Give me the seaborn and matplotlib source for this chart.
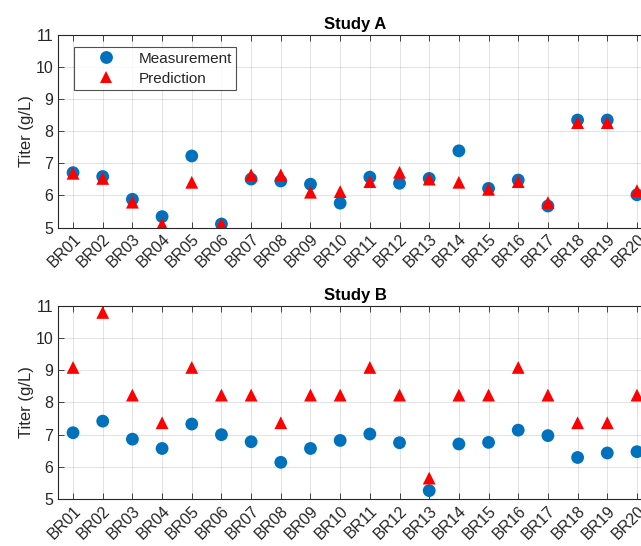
import matplotlib
matplotlib.use("Agg")
import matplotlib.pyplot as plt
import seaborn as sns
import pandas as pd
import numpy as np

batches = [f"BR{i:02d}" for i in range(1, 21)]
a_meas = [6.71, 6.59, 5.88, 5.34, 7.23, 5.11, 6.51, 6.45, 6.35, 5.76,
          6.57, 6.38, 6.53, 7.39, 6.22, 6.48, 5.67, 8.35, 8.35, 6.02]
a_pred = [6.69, 6.53, 5.79, 5.10, 6.41, 5.10, 6.64, 6.64, 6.10, 6.12,
          6.43, 6.72, 6.51, 6.41, 6.19, 6.43, 5.78, 8.27, 8.27, 6.15]
b_meas = [7.06, 7.42, 6.86, 6.57, 7.33, 7.00, 6.78, 6.14, 6.57, 6.82,
          7.02, 6.75, 5.26, 6.71, 6.76, 7.14, 6.97, 6.29, 6.43, 6.47]
b_pred = [9.09, 10.80, 8.23, 7.37, 9.09, 8.23, 8.23, 7.37, 8.23, 8.23,
          9.09, 8.23, 5.65, 8.23, 8.23, 9.09, 8.23, 7.37, 7.37, 8.23]
series = ["Measurement", "Prediction"]
titles = ["Study A", "Study B"]
yticks = [5, 6, 7, 8, 9, 10, 11]

sns.set_style("white")
plt.rcParams['font.family'] = ['Liberation Sans', 'DejaVu Sans']

fig = plt.figure(figsize=(6.41, 5.46), dpi=100)
ax1 = fig.add_axes([58.2/641, 0.5833, 593.6/641, 0.3526])
ax2 = fig.add_axes([58.2/641, 0.0861, 593.6/641, 0.3535])

palette = {"Measurement": "#0072BD", "Prediction": "#FF0000"}
markers = {"Measurement": "o", "Prediction": "^"}
axcol = "#262626"

for ax, meas, pred, title, show_leg in [(ax1, a_meas, a_pred, titles[0], True),
                                         (ax2, b_meas, b_pred, titles[1], False)]:
    df = pd.DataFrame({
        "Batch": batches * 2,
        "Titer": meas + pred,
        "Series": [series[0]] * len(batches) + [series[1]] * len(batches),
    })
    sns.scatterplot(data=df, x="Batch", y="Titer", hue="Series", style="Series",
                    palette=palette, markers=markers, s=85, linewidth=0,
                    ax=ax, legend=show_leg, zorder=3)
    ax.set_xlim(-0.5, 19.5)
    ax.set_ylim(5, 11)
    ax.set_yticks(yticks)
    ax.set_xticks(range(len(batches)))
    ax.set_xticklabels(batches, rotation=45, ha="right", rotation_mode="anchor")
    ax.set_xlabel("")
    ax.set_ylabel("Titer (g/L)", fontsize=12, color=axcol, labelpad=1)
    ax.set_title(title, fontsize=12, fontweight="bold", color="black", pad=4)
    ax.grid(True, color="#262626", alpha=0.13, linewidth=0.7)
    ax.set_axisbelow(True)
    for sp in ax.spines.values():
        sp.set_color(axcol)
        sp.set_linewidth(0.8)
    ax.tick_params(axis="both", direction="in", length=4, width=0.6,
                   colors=axcol, labelsize=11.5, top=True, right=True,
                   bottom=True, left=True)
    ax.tick_params(axis="x", pad=3)

handles, labels = ax1.get_legend_handles_labels()
ax1.legend(handles, labels, loc="upper left", bbox_to_anchor=(0.0268, 0.938),
           borderaxespad=0, frameon=True, fancybox=False, edgecolor=axcol,
           fontsize=11, handletextpad=0.3, borderpad=0.3, labelspacing=0.4,
           markerscale=1.0, handlelength=3.6)
ax1.get_legend().get_frame().set_linewidth(0.8)

fig.savefig("out.png", dpi=100)
